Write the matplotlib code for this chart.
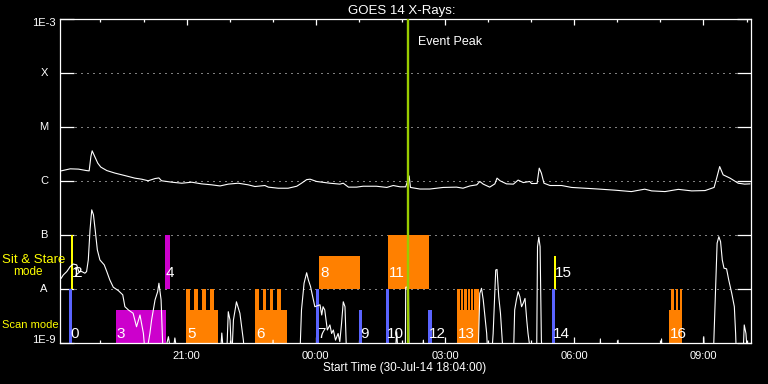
import numpy as np
import matplotlib
matplotlib.use('Agg')
import matplotlib.pyplot as plt
from matplotlib.ticker import FixedLocator, FuncFormatter, NullFormatter

plt.rcParams['font.family'] = ['Liberation Sans', 'DejaVu Sans']

# ---------------- data ----------------
title = "GOES 14 X-Rays:"
xlabel = "Start Time (30-Jul-14 18:04:00)"
start_minutes = 18 * 60 + 4          # 18:04
t_span = 16.03                        # hours shown

# GOES long channel (1-8 A), time in hours since start, flux W/m^2
long_t = [0.02, 0.23, 0.42, 0.61, 0.67, 0.71, 0.74, 0.81, 0.87, 0.94,
          1.08, 1.27, 1.50, 1.73, 1.89, 2.04, 2.20, 2.29, 2.35, 2.59,
          2.82, 3.05, 3.28, 3.51, 3.71, 3.90, 4.13, 4.36, 4.52, 4.75,
          4.83, 5.06, 5.29, 5.43, 5.49, 5.60, 5.72, 5.80, 5.95, 6.26,
          6.49, 6.57, 6.69, 6.88, 7.03, 7.34, 7.58, 7.73, 7.89, 8.02,
          8.10, 8.13, 8.35, 8.58, 8.89, 9.20, 9.35, 9.51, 9.67, 9.74,
          9.82, 9.97, 10.09, 10.14, 10.21, 10.36, 10.52, 10.63, 10.75, 10.90,
          10.94, 11.07, 11.12, 11.17, 11.23, 11.37, 11.64, 11.87, 12.18, 12.49,
          12.88, 13.26, 13.57, 13.73, 14.04, 14.35, 14.66, 14.97, 15.18, 15.24,
          15.31, 15.39, 15.55, 15.74, 15.89, 16.01]
long_flux = [1.54e-6, 1.68e-6, 1.66e-6, 1.56e-6, 1.54e-6, 2.84e-6, 3.62e-6, 2.72e-6, 2.14e-6, 1.81e-6,
             1.56e-6, 1.40e-6, 1.26e-6, 1.13e-6, 1.08e-6, 1.01e-6, 1.11e-6, 1.14e-6, 1.01e-6, 9.5e-7,
             9.1e-7, 9.5e-7, 8.85e-7, 8.5e-7, 8.1e-7, 8.75e-7, 9.1e-7, 8.5e-7, 7.9e-7, 8.25e-7,
             7.7e-7, 7.35e-7, 7.35e-7, 7.8e-7, 8.0e-7, 9.1e-7, 1.06e-6, 1.08e-6, 9.8e-7, 9.1e-7,
             8.75e-7, 9.1e-7, 7.7e-7, 7.7e-7, 8.0e-7, 8.0e-7, 7.6e-7, 8.25e-7, 7.8e-7, 7.8e-7,
             1.24e-6, 7.6e-7, 7.1e-7, 7.1e-7, 7.6e-7, 7.7e-7, 7.35e-7, 8.1e-7, 8.5e-7, 9.8e-7,
             8.75e-7, 7.7e-7, 8.85e-7, 1.13e-6, 1.01e-6, 8.85e-7, 8.75e-7, 1.04e-6, 9.35e-7, 9.8e-7,
             8.97e-7, 9.0e-7, 1.73e-6, 1.40e-6, 9.1e-7, 8.25e-7, 8.25e-7, 7.6e-7, 7.35e-7, 7.1e-7,
             6.76e-7, 6.37e-7, 7.06e-7, 6.56e-7, 6.37e-7, 7.0e-7, 6.56e-7, 6.65e-7, 7.6e-7, 1.13e-6,
             1.85e-6, 1.30e-6, 1.13e-6, 9.1e-7, 8.75e-7, 8.85e-7]

# GOES short channel (0.5-4 A); values below 1E-9 fall off the plot
short_t = [0.02, 0.07, 0.15, 0.23, 0.30, 0.38, 0.43, 0.50, 0.57, 0.61,
           0.65, 0.69, 0.73, 0.77, 0.81, 0.86, 0.92, 1.02, 1.08, 1.15,
           1.23, 1.35, 1.45, 1.50, 1.58, 1.69, 1.77, 1.85, 1.93, 1.98,
           2.08, 2.12, 2.20, 2.26, 2.29, 2.34, 2.39, 2.51, 2.59, 2.66,
           2.74, 3.71, 3.75, 3.80, 3.86, 3.90, 3.94, 3.98, 4.02, 4.09,
           4.17, 4.25, 4.29, 4.92, 4.94, 4.96, 5.56, 5.60, 5.66, 5.72,
           5.76, 5.81, 5.86, 5.91, 6.03, 6.07, 6.10, 6.14, 6.20, 6.26,
           6.30, 6.34, 6.39, 6.45, 6.49, 6.53, 6.57, 6.61, 6.65, 7.77,
           7.81, 7.85, 8.01, 8.02, 8.06, 8.08, 8.10, 8.40, 8.43, 8.47,
           9.70, 9.74, 9.78, 9.82, 9.90, 9.93, 10.01, 10.05, 10.11, 10.14,
           10.18, 10.22, 10.26, 10.29, 10.52, 10.55, 10.59, 10.63, 10.67, 10.71,
           10.75, 10.79, 10.83, 10.86, 10.94, 11.06, 11.08, 11.11, 11.14, 11.17,
           11.20, 12.52, 12.54, 12.56, 12.93, 12.95, 12.97, 13.94, 13.96, 13.98,
           14.92, 14.94, 14.96, 15.16, 15.21, 15.25, 15.29, 15.33, 15.37, 15.41,
           15.47, 15.52, 15.59, 15.65, 15.68, 15.70, 15.85, 15.88, 15.92, 15.96,
           16.03]
short_flux = [1.58e-8, 1.82e-8, 2.1e-8, 2.6e-8, 2.9e-8, 2.8e-8, 2.1e-8, 2.1e-8, 1.96e-8, 2.1e-8,
              3.45e-8, 1.24e-7, 2.92e-7, 2.36e-7, 1.24e-7, 5.3e-8, 3.45e-8, 2.8e-8, 2.1e-8, 1.47e-8,
              1.08e-8, 9.3e-9, 7.8e-9, 4.7e-9, 4.1e-9, 3.56e-9, 2.0e-9, 3.3e-9, 1.5e-9, 5e-10,
              1.5e-9, 2.67e-9, 6.3e-9, 8.9e-9, 1.28e-8, 6.3e-9, 5e-10, 1.31e-9, 5e-10, 1.24e-9,
              5e-10, 5e-10, 1.53e-9, 5e-10, 5e-10, 3.8e-9, 2.67e-9, 5e-10, 2.67e-9, 5.8e-9,
              3.56e-9, 1.13e-9, 5e-10, 5e-10, 1.13e-9, 5e-10, 5e-10, 4.1e-9, 1.28e-8, 2.0e-8,
              1.47e-8, 1.11e-8, 7.2e-9, 4.7e-9, 5.1e-9, 3.3e-9, 4.7e-9, 4.1e-9, 1.74e-9, 2.16e-9,
              1.5e-9, 1.74e-9, 1.13e-9, 1.5e-9, 1.06e-9, 2.3e-9, 5.8e-9, 4.7e-9, 5e-10, 5e-10,
              1.62e-9, 5e-10, 5e-10, 1.08e-8, 1.08e-8, 2.16e-8, 5e-10, 5e-10, 1.13e-9, 5e-10,
              5e-10, 8.3e-9, 1.03e-8, 6.3e-9, 1.5e-9, 5e-10, 5e-10, 1.5e-9, 2.25e-8, 2.3e-8,
              7.2e-9, 3.56e-9, 1.13e-9, 5e-10, 5e-10, 4.1e-9, 6.3e-9, 8.9e-9, 7.2e-9, 4.7e-9,
              5.5e-9, 6.7e-9, 2.67e-9, 1.5e-9, 5e-10, 5e-10, 6.1e-8, 9.1e-8, 6.1e-8, 1.13e-9,
              5e-10, 5e-10, 1.19e-9, 5e-10, 5e-10, 1.13e-9, 5e-10, 5e-10, 1.19e-9, 5e-10,
              5e-10, 1.31e-9, 5e-10, 5e-10, 8.3e-9, 7.05e-8, 9.3e-8, 7.55e-8, 3.45e-8, 2.43e-8,
              2.36e-8, 1.47e-8, 8.3e-9, 4.7e-9, 1.5e-9, 5e-10, 5e-10, 2.16e-9, 1.5e-9, 5e-10,
              5e-10]

# flare class levels
class_labels = ['1E-9', 'A', 'B', 'C', 'M', 'X', '1E-3']
class_values = [1e-9, 1e-8, 1e-7, 1e-6, 1e-5, 1e-4, 1e-3]

event_peak_t = 8.066

# IRIS observations (numbered), hours since start
obs_start = [0.20, 0.25, 0.27, 1.29, 2.43, 2.92, 4.52, 5.94, 6.01, 6.93,
             7.56, 7.61, 8.54, 9.21, 11.41, 11.46, 14.13]
obs_end = [0.27, 0.30, 0.30, 2.45, 2.55, 3.66, 5.26, 6.01, 6.96, 7.00,
           7.63, 8.56, 8.63, 9.73, 11.48, 11.51, 14.43]
obs_mode = ['scan', 'sit', 'sit', 'scan', 'sit', 'scan', 'scan', 'scan', 'sit', 'scan',
            'scan', 'sit', 'scan', 'scan', 'scan', 'sit', 'scan']
obs_color = ['#5a64ff', '#ffff00', '#ffff00', '#cc00cc', '#cc00cc', '#ff8000', '#ff8000',
             '#5a64ff', '#ff8000', '#5a64ff', '#5a64ff', '#ff8000', '#5a64ff', '#ff8000',
             '#5a64ff', '#ffff00', '#ff8000']
obs_fill = [1.0, 1.0, 1.0, 0.61, 1.0, 0.61, 0.61, 1.0, 0.61, 0.61,
            1.0, 1.0, 0.61, 0.61, 1.0, 0.61, 0.61]

# full-height sub-rasters inside the orange scan blocks
sub_obs = [5, 5, 5, 5, 6, 6, 6, 6, 13, 13, 13, 13, 13, 13, 16, 16, 16]
sub_start = [2.92, 3.11, 3.28, 3.47, 4.52, 4.70, 4.87, 5.04,
             9.21, 9.30, 9.38, 9.46, 9.53, 9.61, 14.18, 14.29, 14.39]
sub_end = [3.02, 3.20, 3.38, 3.57, 4.61, 4.78, 4.95, 5.13,
           9.28, 9.355, 9.433, 9.51, 9.587, 9.73, 14.25, 14.34, 14.43]

# ---------------- figure ----------------
fig = plt.figure(figsize=(7.68, 3.84), dpi=100, facecolor='black')
ax = fig.add_axes([60.3 / 768, 1 - 343 / 384, 690.4 / 768, 324 / 384])
ax.set_facecolor('black')
ax.set_yscale('log')
ax.set_ylim(1e-9, 1e-3)
ax.set_xlim(0, t_span)

band_base = {'scan': 1e-9, 'sit': 1e-8}


def band_top(mode, frac):
    return band_base[mode] * 10 ** frac


for i, (s, e, m, c, f) in enumerate(zip(obs_start, obs_end, obs_mode, obs_color, obs_fill)):
    ax.fill_between([s, e], band_base[m], band_top(m, f), color=c, lw=0, zorder=2)
for o, s, e in zip(sub_obs, sub_start, sub_end):
    m = obs_mode[o]
    ax.fill_between([s, e], band_base[m], band_top(m, 1.0), color=obs_color[o], lw=0, zorder=2)

# dotted class lines
for v in class_values[1:-1]:
    ax.plot([0.0213, 0.980], [v, v], transform=ax.get_yaxis_transform(),
            color='white', lw=0.72, linestyle=(0, (1, 5)), zorder=1)

ax.plot(long_t, long_flux, color='white', lw=0.8, zorder=4)
ax.plot(short_t, short_flux, color='white', lw=0.8, zorder=4)

ax.axvline(event_peak_t, color='#99cc00', lw=1.7, zorder=5)
ax.text(event_peak_t + 0.23, 10 ** -3.43, 'Event Peak', color='white',
        fontsize=9, va='center', ha='left', zorder=6)

# observation numbers
for i, (s, m) in enumerate(zip(obs_start, obs_mode)):
    y = 10 ** -8.907 if m == 'scan' else 10 ** -7.78
    ax.text(s + 0.025, y, str(i), color='white', fontsize=11, va='baseline',
            ha='left', zorder=6)

# axes styling
for sp in ax.spines.values():
    sp.set_color('white')
    sp.set_linewidth(0.9)

first_major = (21 * 60 - start_minutes) / 60
first_minor = (19 * 60 - start_minutes) / 60
majors = np.arange(first_major, t_span, 3.0)
minors = np.arange(first_minor, t_span, 1.0)


def clock(h, pos=None):
    m = int(round(start_minutes + h * 60))
    return "%02d:%02d" % ((m // 60) % 24, m % 60)


ax.xaxis.set_major_locator(FixedLocator(majors))
ax.xaxis.set_minor_locator(FixedLocator(minors))
ax.xaxis.set_major_formatter(FuncFormatter(clock))
ax.xaxis.set_minor_formatter(NullFormatter())
ax.tick_params(axis='x', which='major', direction='in', length=4.3, width=0.9,
               color='white', labelcolor='white', labelsize=8, top=True, pad=5.5)
ax.tick_params(axis='x', which='minor', direction='in', length=2.2, width=0.9,
               color='white', top=True)

ax.yaxis.set_major_locator(FixedLocator(class_values))
ax.yaxis.set_minor_locator(FixedLocator([]))
ax.yaxis.set_major_formatter(NullFormatter())
ax.tick_params(axis='y', which='major', direction='in', length=10, width=0.9,
               color='white', right=True)

ytr = ax.get_yaxis_transform()
lab_x = (44 - 60.3) / 690.4
for lab, v in zip(class_labels, class_values):
    yy = v
    if lab == '1E-3':
        yy = v * 10 ** (-3.5 / 54)
    elif lab == '1E-9':
        yy = v * 10 ** (3.0 / 54)
    ax.text(lab_x, yy, lab, transform=ytr, color='white', fontsize=8,
            ha='center', va='center', clip_on=False)

fig.text(402 / 768, 1 - 14 / 384, title, color='white', fontsize=9.5,
         ha='center', va='baseline')
fig.text(405 / 768, 1 - 371 / 384, xlabel, color='white', fontsize=8.5,
         ha='center', va='baseline')

fig.text(2 / 768, 1 - 263 / 384, 'Sit & Stare', color='#ffff00', fontsize=9.5,
         ha='left', va='baseline', zorder=10)
fig.text(13 / 768, 1 - 275 / 384, 'mode', color='#ffff00', fontsize=8.5,
         ha='left', va='baseline', zorder=10)
fig.text(2 / 768, 1 - 328 / 384, 'Scan mode', color='#ffff00', fontsize=8,
         ha='left', va='baseline', zorder=10)

fig.savefig('out.png', dpi=100, facecolor='black')
